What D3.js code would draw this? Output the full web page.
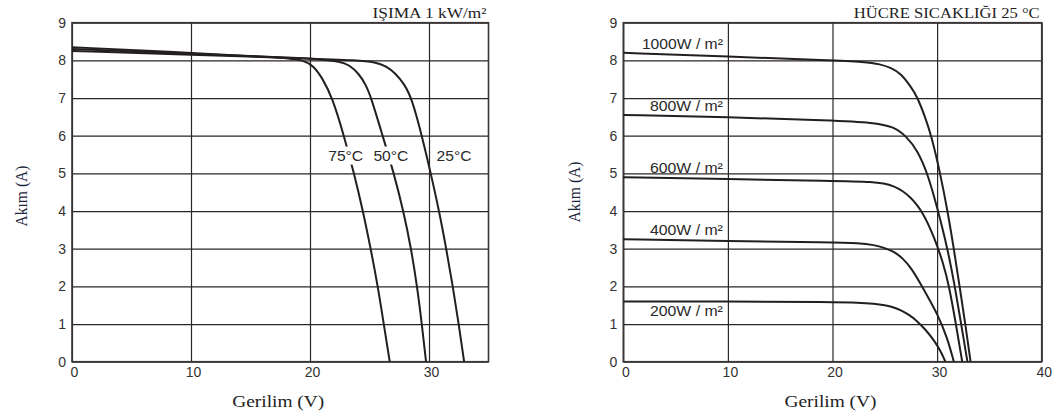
<!DOCTYPE html>
<html>
<head>
<meta charset="utf-8">
<script src="https://cdn.jsdelivr.net/npm/d3@7"></script>
<style>
    body { margin: 0; background: #fff; }
    svg { display: block; }
    .ticklabels text { font-family: 'Liberation Sans', Arial, sans-serif; font-size: 14px; fill: #333; }
    .ticklabels .domain { display: none; }
    .grid line { stroke: #2b2627; stroke-width: 1.2; }
    .grid .domain { display: none; }
    .frame { fill: none; stroke: #3a3536; stroke-width: 1.6; }
    .curve { fill: none; stroke: #231f20; stroke-width: 2; }
    .serif { font-family: 'Liberation Serif', 'Times New Roman', serif; }
    .note { font-family: 'Liberation Sans', Arial, sans-serif; font-size: 14px; fill: #2a2a2a; }
</style>
</head>
<body>
<div id="chart"></div>
<script>
// Common axes
const currentTicks = [0, 1, 2, 3, 4, 5, 6, 7, 8, 9];
const voltTicksLeft = [0, 10, 20, 30];
const voltTicksRight = [0, 10, 20, 30, 40];

// Left panel: temperature effect at 1 kW/m2  [voltage, current]
const tempLabels = ['25°C', '50°C', '75°C'];
const temp25 = [[0, 8.25], [10, 8.15], [20, 8.05], [24, 8.0], [25.5, 7.95], [26.4, 7.85], [27.2, 7.65],
    [27.9, 7.38], [28.55, 7.0], [29.4, 6.0], [30.15, 5.0], [30.85, 4.0], [31.45, 3.0], [32.0, 2.0], [32.5, 1.0], [32.95, 0]];
const temp50 = [[0, 8.3], [10, 8.18], [20, 8.05], [21, 8.02], [22.5, 7.97], [23.3, 7.88], [24.1, 7.65],
    [24.7, 7.35], [25.15, 7.0], [26.1, 6.0], [27.05, 5.0], [27.85, 4.0], [28.5, 3.0], [29.0, 2.0], [29.4, 1.0], [29.75, 0]];
const temp75 = [[0, 8.35], [10, 8.2], [18, 8.07], [19.5, 8.0], [20.3, 7.85], [21.0, 7.55], [21.9, 7.0],
    [22.85, 6.0], [23.7, 5.0], [24.45, 4.0], [25.1, 3.0], [25.7, 2.0], [26.2, 1.0], [26.7, 0]];
const tempLabelV = [32.1, 26.8, 23.0];
const tempLabelI = 5.5;

// Right panel: irradiance effect at 25 °C  [voltage, current]
const irrLabels = ['1000W / m²', '800W / m²', '600W / m²', '400W / m²', '200W / m²'];
const irr1000 = [[0, 8.2], [10, 8.1], [20, 8.0], [23, 7.96], [24.6, 7.9], [25.6, 7.8], [26.5, 7.66], [27.5, 7.3],
    [28.1, 7.03], [28.85, 6.5], [29.45, 6.0], [30.3, 5.0], [31.0, 4.0], [31.6, 3.0], [32.15, 2.0], [32.7, 1.0], [33.2, 0]];
const irr800 = [[0, 6.55], [10, 6.5], [20, 6.4], [23.9, 6.35], [25.9, 6.24], [27.1, 5.97], [28.1, 5.62],
    [29.1, 5.0], [30.1, 4.0], [31.0, 3.0], [31.7, 2.0], [32.3, 1.0], [32.9, 0]];
const irr600 = [[0, 4.9], [10, 4.85], [20, 4.8], [23.9, 4.78], [25.9, 4.69], [27.5, 4.38], [28.7, 3.94],
    [29.7, 3.32], [30.6, 2.61], [31.15, 2.0], [31.8, 1.0], [32.4, 0]];
const irr400 = [[0, 3.25], [10, 3.2], [20, 3.17], [22.5, 3.15], [24.0, 3.1], [25.0, 3.02], [25.9, 2.92],
    [26.7, 2.75], [27.5, 2.5], [28.4, 2.08], [29.2, 1.68], [30.0, 1.28], [30.95, 0.66], [31.6, 0]];
const irr200 = [[0, 1.6], [10, 1.6], [20, 1.58], [22.5, 1.57], [24.0, 1.54], [25.0, 1.5], [25.9, 1.44],
    [26.5, 1.37], [27.3, 1.25], [28.1, 1.08], [28.9, 0.85], [29.7, 0.57], [30.3, 0.3], [30.8, 0]];

function init() {
    const svg = d3.select('#chart')
        .append('svg')
        .attr('width', 1059)
        .attr('height', 419);

    createTempChart(svg);
    createIrradianceChart(svg);
}

// Shared frame, grid, tick labels and axis titles
function drawPanel(svg, p) {
    const x = d3.scaleLinear().domain([0, p.xMax]).range([p.left, p.right]);
    const y = d3.scaleLinear().domain([0, 9]).range([p.bottom, p.top]);

    svg.append('g')
        .attr('class', 'grid')
        .attr('transform', `translate(${p.left},0)`)
        .call(d3.axisLeft(y).tickValues(currentTicks).tickSize(-(p.right - p.left)).tickFormat(''));

    svg.append('g')
        .attr('class', 'grid')
        .attr('transform', `translate(0,${p.bottom})`)
        .call(d3.axisBottom(x).tickValues(p.xTicks).tickSize(-(p.bottom - p.top)).tickFormat(''));

    svg.append('rect')
        .attr('class', 'frame')
        .attr('x', p.left)
        .attr('y', p.top)
        .attr('width', p.right - p.left)
        .attr('height', p.bottom - p.top);

    svg.append('g')
        .attr('class', 'ticklabels')
        .attr('transform', `translate(${p.left},0)`)
        .call(d3.axisLeft(y).tickValues(currentTicks).tickSize(0).tickPadding(6));

    svg.append('g')
        .attr('class', 'ticklabels')
        .attr('transform', `translate(2,${p.bottom})`)
        .call(d3.axisBottom(x).tickValues(p.xTicks).tickSize(0).tickPadding(5));

    svg.append('text')
        .attr('class', 'serif')
        .attr('x', p.right - 2)
        .attr('y', 18)
        .attr('text-anchor', 'end')
        .attr('textLength', p.titleWidth)
        .attr('lengthAdjust', 'spacingAndGlyphs')
        .style('font-size', '14px')
        .style('fill', '#222')
        .text(p.title);

    svg.append('text')
        .attr('class', 'serif')
        .attr('x', (p.left + p.right) / 2 - 2)
        .attr('y', 407)
        .attr('text-anchor', 'middle')
        .attr('textLength', 92)
        .attr('lengthAdjust', 'spacingAndGlyphs')
        .style('font-size', '16px')
        .style('fill', '#222')
        .text('Gerilim (V)');

    svg.append('text')
        .attr('class', 'serif')
        .attr('transform', `translate(${p.yTitleX},${p.yTitleY}) rotate(-90)`)
        .attr('text-anchor', 'middle')
        .attr('textLength', 61)
        .attr('lengthAdjust', 'spacingAndGlyphs')
        .style('font-size', '16px')
        .style('fill', '#1f2740')
        .text('Akım (A)');

    return { x, y };
}

function createTempChart(svg) {
    const { x, y } = drawPanel(svg, {
        left: 72, right: 488.5, top: 22.7, bottom: 361.7,
        xMax: 35, xTicks: voltTicksLeft,
        title: 'IŞIMA 1 kW/m²', titleWidth: 114,
        yTitleX: 27, yTitleY: 196
    });

    const line = d3.line()
        .x(d => x(d[0]))
        .y(d => y(d[1]))
        .curve(d3.curveBasis);

    [temp25, temp50, temp75].forEach(series => {
        svg.append('path')
            .datum(series)
            .attr('class', 'curve')
            .attr('d', line);
    });

    // labels break the curves they sit on
    tempLabels.forEach((label, i) => {
        const cx = x(tempLabelV[i]);
        const cy = y(tempLabelI);
        svg.append('rect')
            .attr('x', cx - 19)
            .attr('y', cy - 8)
            .attr('width', 38)
            .attr('height', 18)
            .attr('fill', '#fff');
        svg.append('text')
            .attr('class', 'note')
            .attr('x', cx)
            .attr('y', cy + 6)
            .attr('text-anchor', 'middle')
            .attr('textLength', 35)
            .attr('lengthAdjust', 'spacingAndGlyphs')
            .text(label);
    });
}

function createIrradianceChart(svg) {
    const { x, y } = drawPanel(svg, {
        left: 623.3, right: 1041.7, top: 22.7, bottom: 361.7,
        xMax: 40, xTicks: voltTicksRight,
        title: 'HÜCRE SICAKLIĞI 25 °C', titleWidth: 186,
        yTitleX: 580, yTitleY: 192
    });

    const line = d3.line()
        .x(d => x(d[0]))
        .y(d => y(d[1]))
        .curve(d3.curveBasis);

    const series = [irr1000, irr800, irr600, irr400, irr200];
    series.forEach((s, i) => {
        svg.append('path')
            .datum(s)
            .attr('class', 'curve')
            .attr('d', line);

        // the lowest label sits under its curve
        const below = i === series.length - 1;
        svg.append('text')
            .attr('class', 'note')
            .attr('x', x(10) - 5)
            .attr('y', y(s[0][1]) + (below ? 15 : -4))
            .attr('text-anchor', 'end')
            .attr('textLength', i === 0 ? 81 : 73)
            .attr('lengthAdjust', 'spacingAndGlyphs')
            .text(irrLabels[i]);
    });
}

if (document.readyState === 'loading') {
    document.addEventListener('DOMContentLoaded', init);
} else {
    init();
}
</script>
</body>
</html>
